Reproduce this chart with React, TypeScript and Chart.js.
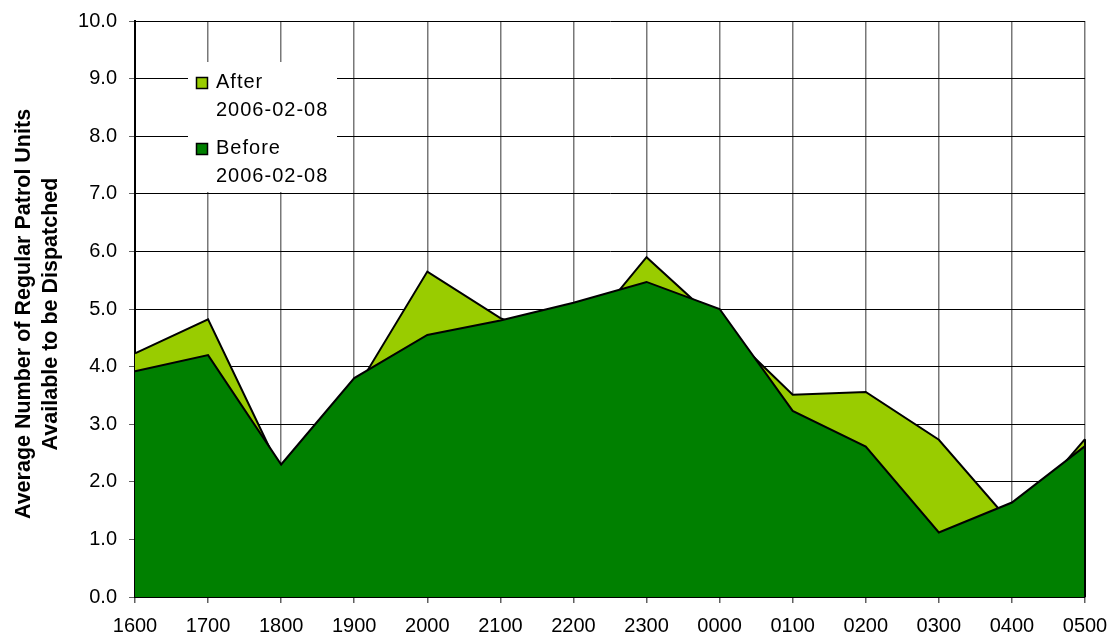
import React, { useEffect, useRef } from "react";
import { Chart, registerables } from "chart.js";

Chart.register(...registerables);

const categories = ["1600", "1700", "1800", "1900", "2000", "2100", "2200", "2300", "0000", "0100", "0200", "0300", "0400", "0500"];
const afterValues = [4.23, 4.82, 2.17, 3.55, 5.65, 4.84, 4.36, 5.9, 4.74, 3.51, 3.56, 2.73, 1.27, 2.74];
const beforeValues = [3.92, 4.2, 2.3, 3.8, 4.55, 4.8, 5.11, 5.47, 5.0, 3.23, 2.61, 1.12, 1.64, 2.62];
const legendLabels = [["After", "2006-02-08"], ["Before", "2006-02-08"]];
const yTitleLines = ["Average Number of Regular Patrol Units", "Available to be Dispatched"];

const AFTER_COLOR = "#99CC00";
const BEFORE_COLOR = "#008000";
const FONT = "'Liberation Sans', Arial, sans-serif";

export default function App() {
  const ref = useRef<HTMLCanvasElement | null>(null);
  useEffect(() => {
    document.body.style.margin = "0";
    const canvas = ref.current;
    if (!canvas) return;

    const customPlugin = {
      id: "custom",
      afterDatasetsDraw(chart: any) {
        const ctx = chart.ctx;
        const area = chart.chartArea;
        ctx.save();
        ctx.strokeStyle = "#000";
        ctx.lineWidth = 2;
        const yScale = chart.scales.y;
        const top = Math.min(
          yScale.getPixelForValue(afterValues[afterValues.length - 1]),
          yScale.getPixelForValue(beforeValues[beforeValues.length - 1])
        );
        ctx.beginPath();
        ctx.moveTo(area.right, top);
        ctx.lineTo(area.right, area.bottom);
        ctx.stroke();
        ctx.restore();
      },
      afterDraw(chart: any) {
        const ctx = chart.ctx;
        ctx.save();
        // legend box
        ctx.fillStyle = "#fff";
        ctx.fillRect(188, 62, 149, 130);
        const colors = [AFTER_COLOR, BEFORE_COLOR];
        const baselines = [88, 154];
        ctx.font = `20px ${FONT}`;
        (ctx as any).letterSpacing = "1px";
        ctx.textBaseline = "alphabetic";
        ctx.textAlign = "left";
        for (let i = 0; i < 2; i++) {
          ctx.fillStyle = colors[i];
          ctx.fillRect(196.5, baselines[i] - 10.5, 11, 11);
          ctx.strokeStyle = "#000";
          ctx.lineWidth = 1.5;
          ctx.strokeRect(196.5, baselines[i] - 10.5, 11, 11);
          ctx.fillStyle = "#000";
          ctx.fillText(legendLabels[i][0], 216, baselines[i]);
          ctx.fillText(legendLabels[i][1], 216, baselines[i] + 28);
        }
        (ctx as any).letterSpacing = "0px";
        // y title
        ctx.font = `bold 21.5px ${FONT}`;
        ctx.textAlign = "center";
        ctx.textBaseline = "alphabetic";
        ctx.translate(0, 314);
        ctx.rotate(-Math.PI / 2);
        ctx.fillText(yTitleLines[0], 0, 30);
        ctx.fillText(yTitleLines[1], 0, 57);
        ctx.restore();
      },
    };

    const chart = new Chart(canvas, {
      type: "line",
      data: {
        labels: categories,
        datasets: [
          {
            label: "Before 2006-02-08",
            data: beforeValues,
            borderColor: "#000",
            borderWidth: 2,
            backgroundColor: BEFORE_COLOR,
            fill: "origin",
            pointRadius: 0,
            tension: 0,
          },
          {
            label: "After 2006-02-08",
            data: afterValues,
            borderColor: "#000",
            borderWidth: 2,
            backgroundColor: AFTER_COLOR,
            fill: "origin",
            pointRadius: 0,
            tension: 0,
          },
        ],
      },
      options: {
        animation: false,
        responsive: false,
        layout: { padding: { left: 0, right: 29, top: 21, bottom: 0 } },
        plugins: { legend: { display: false }, tooltip: { enabled: false } },
        scales: {
          x: {
            offset: false,
            grid: { color: "#787878", lineWidth: 1.5, tickLength: 6, tickColor: "#606060" },
            border: { color: "#000", width: 2 },
            ticks: { color: "#000", font: { family: FONT, size: 20 }, padding: 11, maxRotation: 0, autoSkip: false },
            afterFit: (s: any) => {
              s.height = 42;
              s.paddingLeft = 0;
              s.paddingRight = 0;
            },
          },
          y: {
            min: 0,
            max: 10,
            grid: { color: "#000", lineWidth: 1, tickLength: 6, tickColor: "#606060" },
            border: { color: "#000", width: 2 },
            ticks: {
              stepSize: 1,
              color: "#000",
              font: { family: FONT, size: 20 },
              padding: 12,
              callback: (v: any) => Number(v).toFixed(1),
            },
            afterFit: (s: any) => {
              s.width = 135;
              s.paddingTop = 0;
              s.paddingBottom = 0;
            },
          },
        },
      },
      plugins: [customPlugin],
    });
    return () => chart.destroy();
  }, []);
  return <canvas ref={ref} width={1114} height={639} style={{ display: "block" }} />;
}
